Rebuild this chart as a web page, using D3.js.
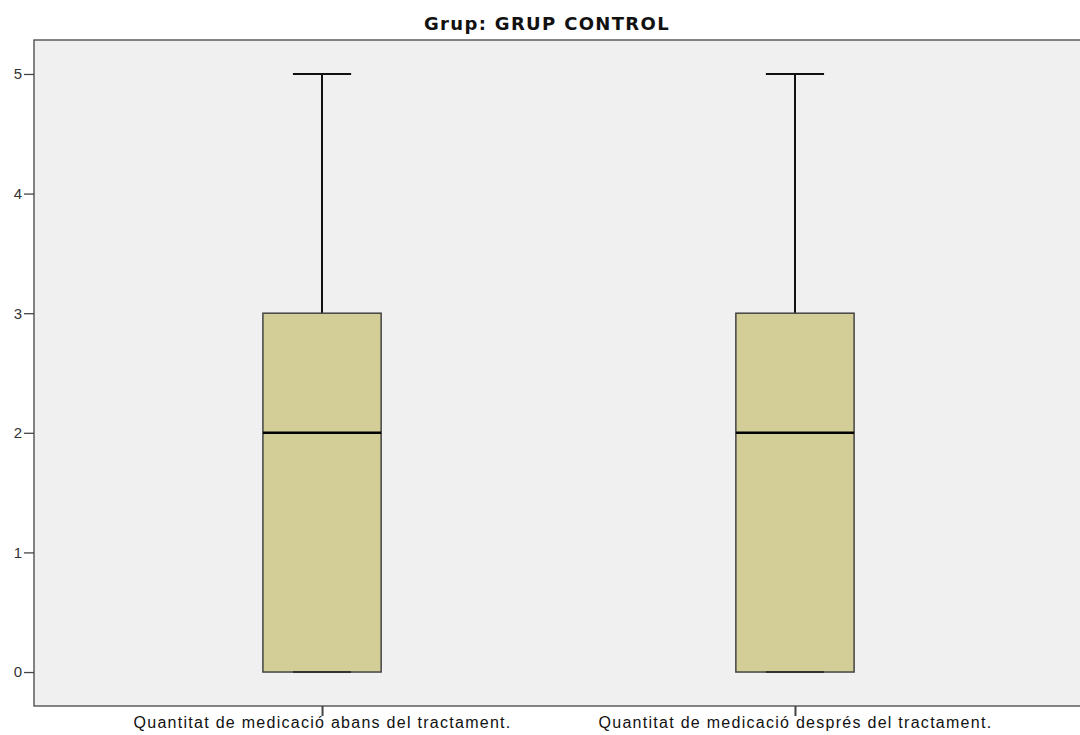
<!DOCTYPE html>
<html><head><meta charset="utf-8">
<script src="https://cdn.jsdelivr.net/npm/d3@7"></script>
<style>body{margin:0;background:#fff;} svg{display:block;}</style>
</head><body>
<svg id="c" width="1080" height="735"></svg>
<script>
const title = "Grup: GRUP CONTROL";
const categories = ["Quantitat de medicació abans del tractament.", "Quantitat de medicació després del tractament."];
const minVals = [0, 0];
const q1Vals = [0, 0];
const medianVals = [2, 2];
const q3Vals = [3, 3];
const maxVals = [5, 5];
const yTicks = [0, 1, 2, 3, 4, 5];

const FONT = "Liberation Sans, Arial, sans-serif";
const svg = d3.select("#c");
const L = 34, T = 40, R = 1083, B = 706;
const y = d3.scaleLinear().domain([-0.284, 5.284]).range([B, T]);
const x = d3.scalePoint().domain(categories).range([L, R]).padding(0.609);
const step = x.step();
const boxW = step * 0.25, capW = step * 0.123;

svg.append("rect").attr("x", L).attr("y", T).attr("width", R - L).attr("height", B - T)
  .attr("fill", "#f0f0f0").attr("stroke", "#444").attr("stroke-width", 1.3);

const tt = svg.append("text").attr("x", 547).attr("y", 30).attr("text-anchor", "middle")
  .attr("font-family", "DejaVu Sans, Verdana, sans-serif").attr("font-weight", "bold")
  .attr("font-size", 18).attr("fill", "#111").text(title);
{
  const w0 = tt.node().getComputedTextLength();
  const ls = Math.max(0, (246 - w0) / title.length);
  tt.attr("letter-spacing", ls);
}

const yAxis = svg.append("g").attr("transform", `translate(${L},0)`)
  .call(d3.axisLeft(y).tickValues(yTicks).tickFormat(d3.format("d")).tickSize(10).tickPadding(2));
yAxis.select(".domain").remove();
yAxis.selectAll("line").attr("stroke", "#444").attr("stroke-width", 1.3);
yAxis.selectAll("text").attr("font-family", FONT).attr("font-size", 15).attr("fill", "#333");

const xAxis = svg.append("g").attr("transform", `translate(0,${B})`)
  .call(d3.axisBottom(x).tickSize(10).tickPadding(6));
xAxis.select(".domain").remove();
xAxis.selectAll("line").attr("stroke", "#444").attr("stroke-width", 2);
const xt = xAxis.selectAll("text").attr("font-family", FONT).attr("font-size", 16)
  .attr("fill", "#111").attr("dy", "0.4em");
{
  const n0 = xt.nodes()[0];
  const w0 = n0.getComputedTextLength();
  const ls = (378 - w0) / categories[0].length;
  xt.attr("letter-spacing", ls);
}

const g = svg.append("g");
categories.forEach((c, i) => {
  const cx = x(c);
  g.append("line").attr("x1", cx).attr("x2", cx).attr("y1", y(q3Vals[i])).attr("y2", y(maxVals[i]))
    .attr("stroke", "#111").attr("stroke-width", 2);
  g.append("line").attr("x1", cx).attr("x2", cx).attr("y1", y(minVals[i])).attr("y2", y(q1Vals[i]))
    .attr("stroke", "#111").attr("stroke-width", 2);
  g.append("line").attr("x1", cx - capW / 2).attr("x2", cx + capW / 2).attr("y1", y(maxVals[i])).attr("y2", y(maxVals[i]))
    .attr("stroke", "#111").attr("stroke-width", 2);
  g.append("rect").attr("x", cx - boxW / 2).attr("y", y(q3Vals[i])).attr("width", boxW)
    .attr("height", y(q1Vals[i]) - y(q3Vals[i])).attr("fill", "#d3ce97").attr("stroke", "#444").attr("stroke-width", 1.5);
  g.append("line").attr("x1", cx - capW / 2).attr("x2", cx + capW / 2).attr("y1", y(minVals[i])).attr("y2", y(minVals[i]))
    .attr("stroke", "#333").attr("stroke-width", 2);
  g.append("line").attr("x1", cx - boxW / 2).attr("x2", cx + boxW / 2).attr("y1", y(medianVals[i])).attr("y2", y(medianVals[i]))
    .attr("stroke", "#000").attr("stroke-width", 2.5);
});
</script>
</body></html>
